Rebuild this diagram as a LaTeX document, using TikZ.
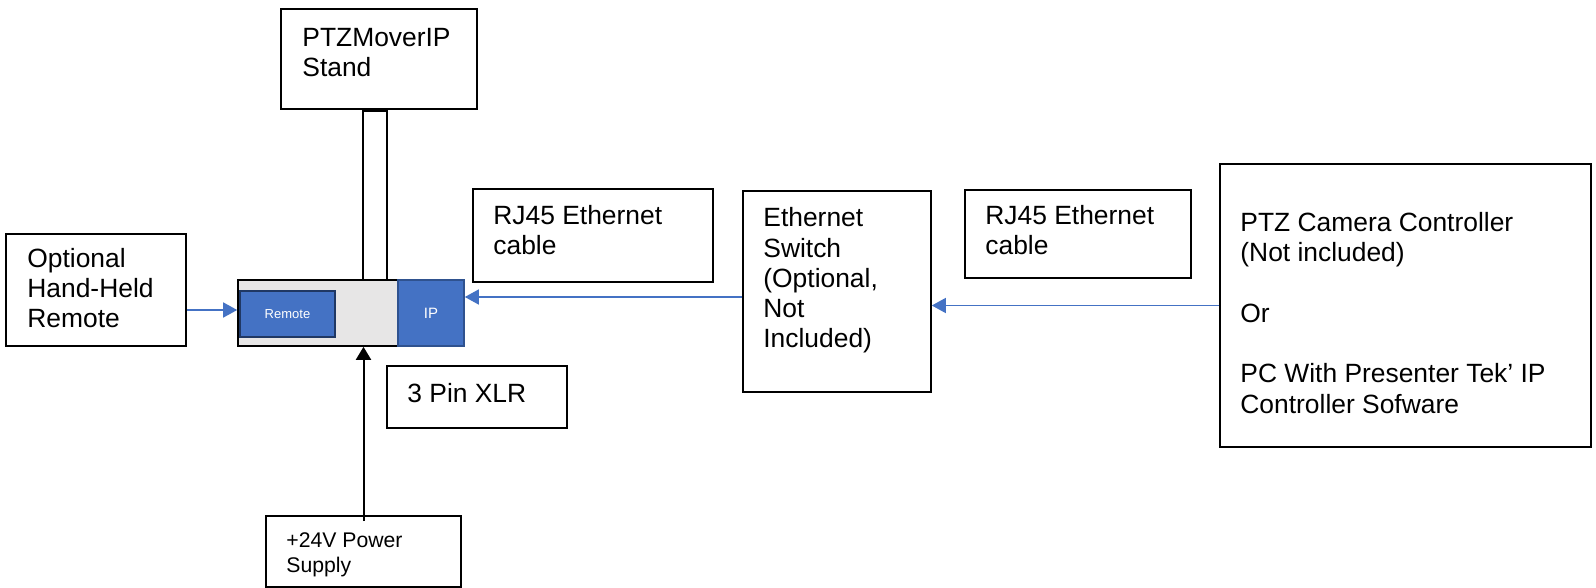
\documentclass[tikz,border=0pt]{standalone}
\usepackage{fontspec}
\setmainfont{Liberation Sans}
\usetikzlibrary{arrows.meta}
\definecolor{ptzblue}{HTML}{4472C4}
\definecolor{ptzedge}{HTML}{2F528F}
\definecolor{ptznavy}{HTML}{203864}
\definecolor{ptzgray}{HTML}{E7E6E6}
\begin{document}
\begin{tikzpicture}[x=0.5pt,y=-0.5pt]
%%%%%%%%%%%%%%%%%%%%%%%%%%%%%%%%%%%%%%%%%%%%%%%%%%%%%%%%
% STYLE
\tikzstyle{box}=[rectangle,draw,line width=0.8pt,inner sep=0pt,fill=white]
\tikzstyle{port}=[rectangle,draw=ptzedge,fill=ptzblue,line width=0.8pt,inner sep=0pt,text=white]
\tikzstyle{txt}=[anchor=base west,inner sep=0pt,align=left,font=\fontsize{13.2}{15.15}\selectfont]
\tikzstyle{smalltxt}=[txt,font=\fontsize{10.6}{12.5}\selectfont]

\tikzset{link/.style={-{Triangle[length=7pt,width=7.5pt]},line width=0.75pt,draw=ptzblue}}
\tikzset{powerlink/.style={-{Triangle[length=6.5pt,width=7.5pt]},line width=1pt}}

\useasboundingbox (0,0) rectangle (1596,588);
%%%%%%%%%%%%%%%%%%%%%%%%%%%%%%%%%%%%%%%%%%%%%%%%%%%%%%%%
% NODES
\node[box,minimum width=98pt,minimum height=50pt] (stand) at (379,59) {};
\node[box,minimum width=12pt,minimum height=84.5pt] (pole) at (375,195.5) {};

\node[box,fill=ptzgray,minimum width=80pt,minimum height=33pt] (body) at (318,313) {};
\node[port,minimum width=33pt,minimum height=33pt,font=\fontsize{7.5}{9}\selectfont] (ip) at (431,313) {IP};
\node[port,draw=ptznavy,minimum width=47.5pt,minimum height=23pt,font=\fontsize{6.5}{8}\selectfont] (remote) at (287.5,314) {Remote};

\node[box,minimum width=90pt,minimum height=56pt] (optional) at (96,290) {};
\node[box,minimum width=90pt,minimum height=31pt] (xlr) at (477,397) {};
\node[box,minimum width=97.5pt,minimum height=35.5pt] (power) at (363.5,551.5) {};
\node[box,minimum width=120pt,minimum height=46.5pt] (rjleft) at (593,235.5) {};
\node[box,minimum width=94pt,minimum height=100.5pt] (switch) at (837,291.5) {};
\node[box,minimum width=113pt,minimum height=44pt] (rjright) at (1078,234) {};
\node[box,minimum width=185.5pt,minimum height=141.5pt] (ctrl) at (1405.5,305.5) {};

% texts sit on the baseline of their last line
\node[txt] (standtxt) at (302,77) {PTZMoverIP\\Stand};
\node[txt] (optionaltxt) at (27,328) {Optional\\Hand-Held\\Remote};
\node[txt] (xlrtxt) at (407,402) {3 Pin XLR};
\node[smalltxt] (powertxt) at (286,572) {+24V Power\\Supply};
\node[txt] (rjlefttxt) at (493,255) {RJ45 Ethernet\\cable};
\node[txt] (switchtxt) at (763,348) {Ethernet\\Switch\\(Optional,\\Not\\Included)};
\node[txt] (rjrighttxt) at (985,255) {RJ45 Ethernet\\cable};
\node[txt] (ctrltxt) at (1240,413) {PTZ Camera Controller\\(Not included)\\[15.15pt]Or\\[15.15pt]PC With Presenter Tek’ IP\\Controller Sofware};
%%%%%%%%%%%%%%%%%%%%%%%%%%%%%%%%%%%%%%%%%%%%%%%%%%%%%%%%
% LINKS
\draw[link] ([yshift=2pt]optional.east |- remote.west) -- ([yshift=2pt]body.west |- remote.west);
\draw[link] ([yshift=-2.75pt]switch.west) -- ([yshift=-2.75pt]switch.west -| ip.east);
\draw[link] (ctrl.west) -- (ctrl.west -| switch.east);
\draw[powerlink] ([yshift=-3pt]power.north) -- (power.north |- body.south);
\end{tikzpicture}
\end{document}
